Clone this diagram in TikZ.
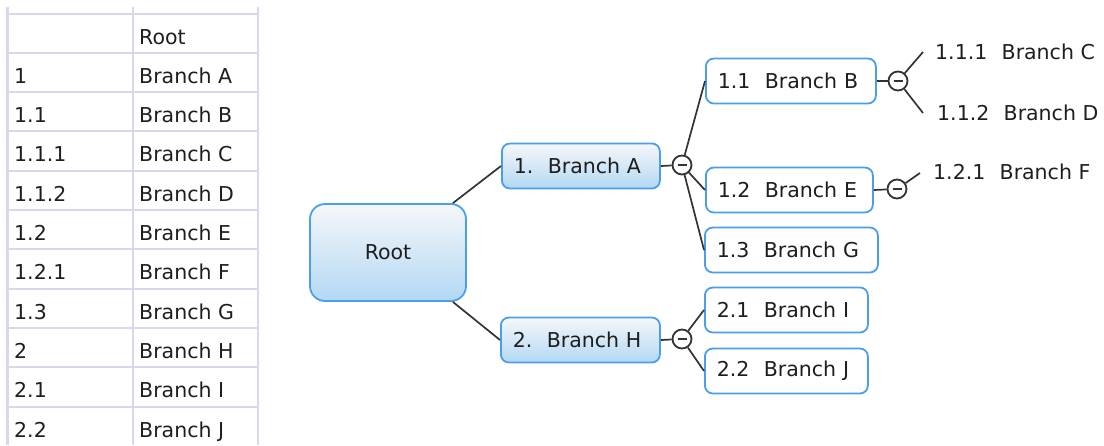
\documentclass[tikz,border=0pt]{standalone}
\usepackage{fontspec}
\setmainfont{DejaVu Sans}
\newcommand{\numgap}{\hspace{0.7em}}

\definecolor{gridlav}{HTML}{D8D8EA}
\definecolor{boxblue}{HTML}{4A9EEC}
\definecolor{shadetop}{HTML}{F5F7F9}
\definecolor{shadebot}{HTML}{B3D8F4}
\definecolor{inkgray}{HTML}{1E1E1E}
\definecolor{wiregray}{HTML}{333333}

\tikzset{
  txt/.style={font=\fontsize{20.5}{24}\selectfont, text=inkgray},
  gridline/.style={draw=gridlav, line width=2pt},
  topicbox/.style={txt, draw=boxblue, line width=1.8pt, rounded corners=8pt,
    minimum height=45pt, inner xsep=12pt, inner ysep=0pt, align=left,
    anchor=west, text width=#1},
  mainbox/.style={topicbox=#1, top color=shadetop, bottom color=shadebot},
  subbox/.style={topicbox=#1, fill=white},
  leaf/.style={txt, anchor=west, inner sep=0pt},
  wire/.style={draw=wiregray, line width=1.7pt},
  knob/.style={circle, draw=wiregray, line width=1.8pt, fill=white,
    minimum size=19pt, inner sep=0pt,
    path picture={\draw[wiregray, line width=1.8pt]
      ([xshift=-4.5pt]path picture bounding box.center) --
      ([xshift=4.5pt]path picture bounding box.center);}},
}

\begin{document}
\begin{tikzpicture}[x=1pt,y=-1pt]
\useasboundingbox (0,0) rectangle (1104,445);
% tabelle links
\draw[gridline, line width=3pt] (7.5,7) -- (7.5,445);
\draw[gridline] (133,7) -- (133,445);
\draw[gridline] (258,7) -- (258,445);
\foreach \k in {0,...,10}{
  \draw[gridline] (9,{13.5+39.3*\k}) -- (258,{13.5+39.3*\k});
}
\foreach \num/\lbl [count=\r from 0] in {{}/Root, 1/Branch A, 1.1/Branch B,
    1.1.1/Branch C, 1.1.2/Branch D, 1.2/Branch E, 1.2.1/Branch F,
    1.3/Branch G, 2/Branch H, 2.1/Branch I, 2.2/Branch J}{
  \node[txt, anchor=base west, inner sep=0pt] (n\r) at (14,{44+39.3*\r}) {\num};
  \node[txt, anchor=base west, inner sep=0pt] (t\r) at (139,{44+39.3*\r}) {\lbl};
}
% mindmap
\node[txt, draw=boxblue, line width=1.8pt, rounded corners=15pt,
  top color=shadetop, bottom color=shadebot,
  minimum width=156pt, minimum height=97pt] (root) at (388,252.5) {Root};
\node[mainbox=134pt] (bA) at (501,166) {1.\numgap Branch A};
\node[mainbox=135pt] (bH) at (500,340) {2.\numgap Branch H};
\node[subbox=146pt] (bB) at (705,81) {1.1\numgap Branch B};
\node[subbox=143pt] (bE) at (705,190) {1.2\numgap Branch E};
\node[subbox=149pt] (bG) at (704,250) {1.3\numgap Branch G};
\node[subbox=139pt] (bI) at (704,310) {2.1\numgap Branch I};
\node[subbox=139pt] (bJ) at (704,371) {2.2\numgap Branch J};
\node[leaf] (lC) at (935,52) {1.1.1\numgap Branch C};
\node[leaf] (lD) at (937,113) {1.1.2\numgap Branch D};
\node[leaf] (lF) at (933,172) {1.2.1\numgap Branch F};
% aufklapp-knoepfe
\node[knob] (kA) at (682,165) {};
\node[knob] (kH) at (682,339) {};
\node[knob] (kB) at (898,81) {};
\node[knob] (kE) at (897,189) {};
\coordinate (eC) at (923,52);
\coordinate (eD) at (923,113);
\coordinate (eF) at (920,173);
% verbindungen
\draw[wire] ([xshift=-14pt]root.north east) -- (bA.west);
\draw[wire] ([xshift=-14pt]root.south east) -- (bH.west);
\draw[wire] (bA.east) -- (kA);
\draw[wire] (kA) -- (bB.west);
\draw[wire] (kA) -- (bE.west);
\draw[wire] (kA) -- (bG.west);
\draw[wire] (bH.east) -- (kH);
\draw[wire] (kH) -- (bI.west);
\draw[wire] (kH) -- (bJ.west);
\draw[wire] (bB.east) -- (kB);
\draw[wire] (kB) -- (eC);
\draw[wire] (kB) -- (eD);
\draw[wire] (bE.east) -- (kE);
\draw[wire] (kE) -- (eF);
\end{tikzpicture}
\end{document}
